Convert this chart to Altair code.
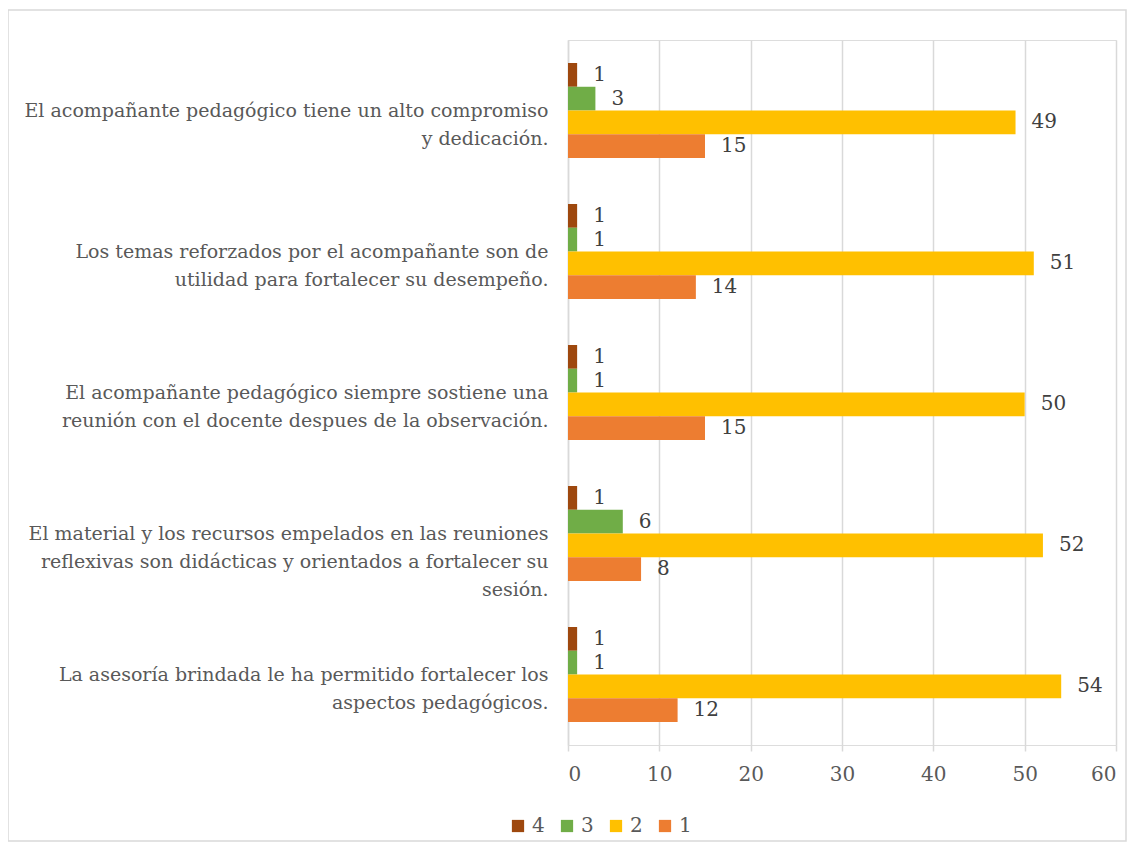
import altair as alt
import pandas as pd

categories = [
    "El acompañante pedagógico tiene un alto compromiso\ny dedicación.",
    "Los temas reforzados por el acompañante son de\nutilidad para fortalecer su desempeño.",
    "El acompañante pedagógico siempre sostiene una\nreunión con el docente despues de la observación.",
    "El material y los recursos empelados en las reuniones\nreflexivas son didácticas y orientados a fortalecer su\nsesión.",
    "La asesoría brindada le ha permitido fortalecer los\naspectos pedagógicos.",
]
series = ["4", "3", "2", "1"]
vals_4 = [1, 1, 1, 1, 1]
vals_3 = [3, 1, 1, 6, 1]
vals_2 = [49, 51, 50, 52, 54]
vals_1 = [15, 14, 15, 8, 12]
colors = ["#9E480E", "#70AD47", "#FFC000", "#ED7D31"]
x_ticks = [0, 10, 20, 30, 40, 50, 60]

rows = []
for s, vals in zip(series, [vals_4, vals_3, vals_2, vals_1]):
    for c, v in zip(categories, vals):
        rows.append({"categoria": c, "serie": s, "valor": v})
df = pd.DataFrame(rows)

FONT = "DejaVu Serif"
GRAY = "#595959"

y_enc = alt.Y(
    "categoria:N",
    sort=categories,
    scale=alt.Scale(paddingInner=0, paddingOuter=0),
    axis=alt.Axis(
        title=None,
        labelExpr="split(datum.label, '\\n')",
        labelAlign="right",
        labelFont=FONT,
        labelFontSize=19,
        labelColor=GRAY,
        labelPadding=20,
        labelLineHeight=28,
        labelLimit=0,
        ticks=False,
        domainColor="#D9D9D9",
        domainWidth=1.5,
        grid=False,
    ),
)
x_enc = alt.X(
    "valor:Q",
    scale=alt.Scale(domain=[0, 60], nice=False),
    axis=alt.Axis(
        title=None,
        values=x_ticks,
        grid=True,
        gridColor="#D9D9D9",
        gridWidth=1.5,
        domain=False,
        ticks=True,
        tickColor="#D9D9D9",
        tickSize=6,
        tickWidth=1.5,
        labelFont=FONT,
        labelFontSize=20,
        labelColor=GRAY,
        labelPadding=13,
    ),
)
yoff_enc = alt.YOffset(
    "serie:N", sort=series, scale=alt.Scale(paddingInner=0, paddingOuter=0.97)
)

bars = alt.Chart(df).mark_bar().encode(
    y=y_enc,
    x=x_enc,
    yOffset=yoff_enc,
    color=alt.Color(
        "serie:N",
        sort=series,
        scale=alt.Scale(domain=series, range=colors),
        legend=alt.Legend(
            title=None,
            orient="none",
            direction="horizontal",
            legendX=-60,
            legendY=776,
            symbolType="square",
            symbolSize=150,
            symbolStrokeWidth=0,
            labelFont=FONT,
            labelFontSize=20,
            labelColor=GRAY,
            columnPadding=12,
            labelOffset=4,
        ),
    ),
)

labels = alt.Chart(df).mark_text(
    align="left", baseline="middle", dx=16, font=FONT, fontSize=20, color="#404040"
).encode(
    y=alt.Y("categoria:N", sort=categories),
    x=alt.X("valor:Q"),
    yOffset=alt.YOffset("serie:N", sort=series),
    text="valor:Q",
)

border = alt.Chart(alt.Data(values=[{}])).mark_rect(
    fill=None, stroke="#D9D9D9", strokeWidth=1.5
).encode(
    x=alt.value(-560), x2=alt.value(558), y=alt.value(-30), y2=alt.value(801)
)

chart = (
    alt.layer(bars, labels, border)
    .properties(
        width=548,
        height=705,
        autosize=alt.AutoSizeParams(type="none"),
        padding={"left": 560, "top": 32, "right": 19, "bottom": 103},
    )
    .configure_view(stroke=None)
    .configure(background="white")
)

chart.save("out.html", embed_options={"renderer": "svg", "actions": False})
